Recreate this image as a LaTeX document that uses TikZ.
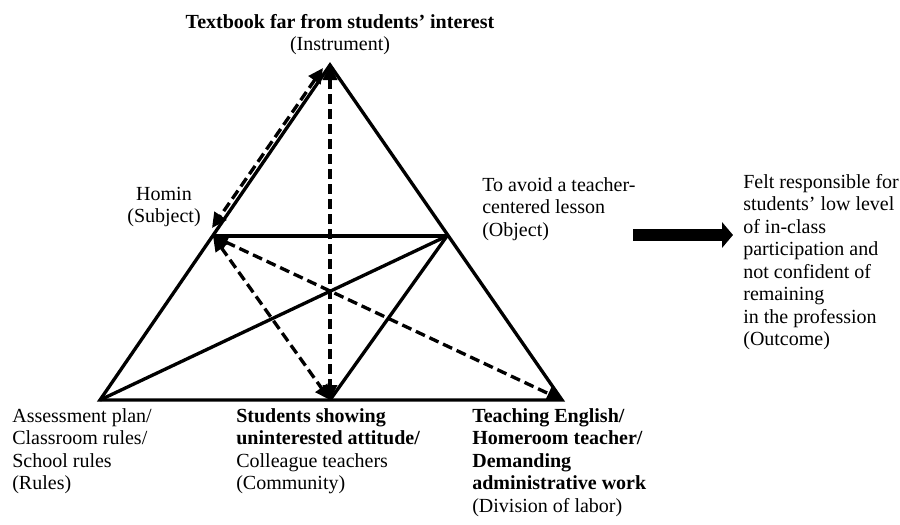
\documentclass[tikz,border=0pt]{standalone}
\usepackage{fontspec}
\setmainfont{Liberation Serif}
\usetikzlibrary{arrows.meta}

\begin{document}
\begin{tikzpicture}
  [x=0.6pt,y=-0.6pt,
   edge/.style={line width=2pt,line join=miter},
   dasharrow/.style={line width=2pt,dash pattern=on 6pt off 3pt,
     {Triangle[length=9pt,width=8.5pt]}-{Triangle[length=9pt,width=8.5pt]}},
   bigarrow/.style={line width=7.5pt,-{Triangle[length=6.5pt,width=15pt]}},
   txt/.style={inner sep=0pt,font=\fontsize{12}{13.5}\selectfont}]
  \useasboundingbox (0,0) rectangle (900,524);

  \coordinate (instr) at (330,65);
  \coordinate (subj)  at (213,236);
  \coordinate (obj)   at (447,236);
  \coordinate (rules) at (100,400);
  \coordinate (comm)  at (330,400);
  \coordinate (div)   at (562,400);

  \draw[edge] (instr) -- (rules) -- (div) -- cycle;
  \foreach \from/\to in {subj/obj,rules/obj,obj/comm}
    \draw[edge] (\from) -- (\to);

  \foreach \from/\to in {instr/comm,subj/comm,subj/div}
    \draw[dasharrow] (\from) -- (\to);
  \draw[dasharrow] ([shift={(-7,3)}]instr) -- ([shift={(-1,-8)}]subj);

  \node[txt,anchor=north,align=center] (instrT) at (340,14)
    {\textbf{Textbook far from students’ interest}\\(Instrument)};
  \node[txt,align=center] (subjT) at (164,207) {Homin\\(Subject)};
  \node[txt,anchor=north west,align=left] (objT) at (482,177)
    {To avoid a teacher-\\centered lesson\\(Object)};
  \node[txt,anchor=north west,align=left] (outT) at (743,174)
    {Felt responsible for\\students’ low level\\of in-class\\participation and\\not confident of\\remaining\\in the profession\\(Outcome)};
  \node[txt,anchor=north west,align=left] (rulesT) at (12,408)
    {Assessment plan/\\Classroom rules/\\School rules\\(Rules)};
  \node[txt,anchor=north west,align=left] (commT) at (236,408)
    {\textbf{Students showing}\\\textbf{uninterested attitude/}\\Colleague teachers\\(Community)};
  \node[txt,anchor=north west,align=left] (divT) at (472,408)
    {\textbf{Teaching English/}\\\textbf{Homeroom teacher/}\\\textbf{Demanding}\\\textbf{administrative work}\\(Division of labor)};

  \coordinate (bigS) at (633,235);
  \coordinate (bigE) at (733,235);
  \draw[bigarrow] (bigS) -- (bigE);

\end{tikzpicture}
\end{document}
